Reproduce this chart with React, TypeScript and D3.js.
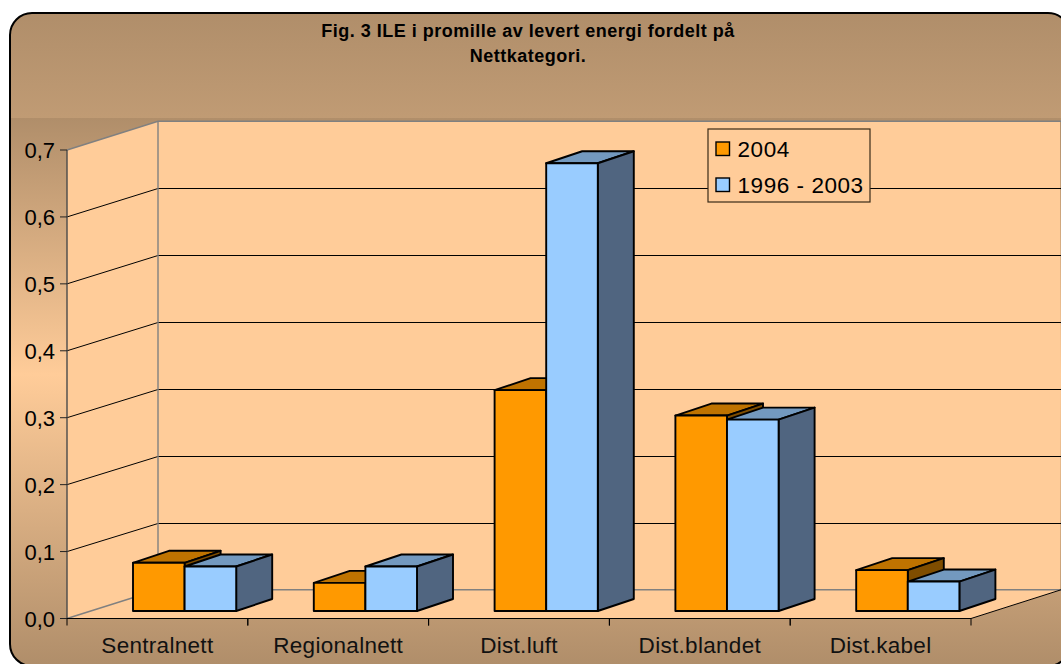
import React from "react";
import * as d3 from "d3";

const categories = ["Sentralnett", "Regionalnett", "Dist.luft", "Dist.blandet", "Dist.kabel"];
const values2004 = [0.072, 0.042, 0.33, 0.292, 0.061];
const values9603 = [0.0665, 0.0665, 0.669, 0.286, 0.044];
const yTicks = [0, 0.1, 0.2, 0.3, 0.4, 0.5, 0.6, 0.7];
const titleLines = ["Fig. 3 ILE i promille av levert energi fordelt på", "Nettkategori."];
const legendLabels = ["2004", "1996 - 2003"];

const W = 1061, H = 664;
const x0 = 67, x1 = 971, yBase = 618.5, yTop = 150;
const wallDx = 91, wallDy = -28.7;
const barBase = 611, barW = 51.6, barDx = 36, barDy = -12, barInset = 66;
const FONT = "'Liberation Sans', Arial, sans-serif";

const palette = [
  { front: "#ff9900", top: "#bf7300", side: "#7f4d00" },
  { front: "#99ccff", top: "#7399bf", side: "#506580" },
];

const band = d3.scaleBand<string>().domain(categories).range([x0, x1]);
const yAxis = d3.scaleLinear().domain([0, 0.7]).range([yBase, yTop]);
const yBar = d3.scaleLinear().domain([0, 0.7]).range([barBase, barBase - (yBase - yTop)]);
const fmt = (v: number) => v.toFixed(1).replace(".", ",");
const poly = (pts: number[][]) => pts.map((p) => p.join(",")).join(" ");

function Bar({ x, value, c }: { x: number; value: number; c: (typeof palette)[number] }) {
  const t = yBar(value);
  const r = x + barW;
  return (
    <g stroke="#000" strokeWidth={1.9} strokeLinejoin="round">
      <polygon points={poly([[x, t], [x + barDx, t + barDy], [r + barDx, t + barDy], [r, t]])} fill={c.top} />
      <polygon points={poly([[r, t], [r + barDx, t + barDy], [r + barDx, barBase + barDy], [r, barBase]])} fill={c.side} />
      <rect x={x} y={t} width={barW} height={barBase - t} fill={c.front} />
    </g>
  );
}

export default function App() {
  const bw = band.bandwidth();
  const backX0 = x0 + wallDx, backX1 = x1 + wallDx;
  const backTop = yTop + wallDy, backBase = yBase + wallDy;
  return (
    <svg width={W} height={H} viewBox={`0 0 ${W} ${H}`} style={{ position: "absolute", left: 0, top: 0, display: "block" }}>
      <defs>
        <linearGradient id="gTop" x1="0" y1="0" x2="0" y2="1">
          <stop offset="0" stopColor="#b08e6a" />
          <stop offset="1" stopColor="#c09b74" />
        </linearGradient>
        <linearGradient id="gLow" x1="0" y1="0" x2="0" y2="1">
          <stop offset="0" stopColor="#b08e6a" />
          <stop offset="0.47" stopColor="#ffcc99" />
          <stop offset="1" stopColor="#b08e6a" />
        </linearGradient>
        <clipPath id="frame"><rect x={10} y={13} width={1060} height={653} rx={22} /></clipPath>
      </defs>
      <g clipPath="url(#frame)">
        <rect x={0} y={13} width={W} height={105} fill="url(#gTop)" />
        <rect x={0} y={118} width={W} height={H - 118} fill="url(#gLow)" />
      </g>
      <rect x={10} y={13} width={1060} height={653} rx={22} fill="none" stroke="#000" strokeWidth={2} />

      <polygon points={poly([[backX0, backTop], [W - 1, backTop], [W - 1, backBase], [backX0, backBase]])} fill="#ffcc99" />
      <polygon points={poly([[x0, yTop], [backX0, backTop], [backX0, backBase], [x0, yBase]])} fill="#ffcc99" />
      <polygon points={poly([[x0, yBase], [backX0, backBase], [backX1, backBase], [x1, yBase]])} fill="#ffcc99" />

      {yTicks.slice(1, -1).map((v) => {
        const y = yAxis(v);
        const by = Math.round(y + wallDy) + 0.5;
        return (
          <g key={v} stroke="#000" strokeWidth={1} fill="none">
            <line x1={x0} y1={y} x2={backX0} y2={by} />
            <line x1={backX0} y1={by} x2={W} y2={by} />
          </g>
        );
      })}
      <polyline points={poly([[x0, yTop], [backX0, backTop], [W, backTop]])} fill="none" stroke="#808080" strokeWidth={1.6} />
      <line x1={backX0} y1={backTop} x2={backX0} y2={backBase} stroke="#808080" strokeWidth={1.4} />
      <polyline points={poly([[x0, yBase], [backX0, backBase], [W, backBase]])} fill="none" stroke="#808080" strokeWidth={1.6} />
      <line x1={x1} y1={yBase} x2={W} y2={backBase} stroke="#000" strokeWidth={1} />

      <line x1={x0} y1={yTop} x2={x0} y2={yBase} stroke="#4a4a4a" strokeWidth={1.4} />
      <line x1={x0 - 7} y1={yBase} x2={x1} y2={yBase} stroke="#000" strokeWidth={1.2} />

      {yTicks.map((v) => (
        <g key={v}>
          <line x1={x0 - 7} x2={x0} y1={yAxis(v)} y2={yAxis(v)} stroke="#222" strokeWidth={1} />
          <text x={55} y={yAxis(v) + 8} textAnchor="end" fontFamily={FONT} fontSize={22} fill="#000">{fmt(v)}</text>
        </g>
      ))}

      {categories.map((c, i) => {
        const b = band(c)!;
        return (
          <g key={c}>
            <line x1={b + bw} x2={b + bw} y1={yBase} y2={yBase + 7} stroke="#000" strokeWidth={1} />
            <line x1={b} x2={b} y1={yBase} y2={yBase + 7} stroke="#000" strokeWidth={1} />
            <text x={b + bw / 2} y={653} textAnchor="middle" fontFamily={FONT} fontSize={22.5} letterSpacing={0.3} fill="#111">{c}</text>
            <Bar x={b + barInset} value={values2004[i]} c={palette[0]} />
            <Bar x={b + barInset + barW} value={values9603[i]} c={palette[1]} />
          </g>
        );
      })}

      {titleLines.map((t, i) => (
        <text key={t} x={528} y={37 + i * 25} textAnchor="middle" fontFamily={FONT} fontWeight={700} fontSize={18} letterSpacing={0.5} fill="#000">{t}</text>
      ))}

      <rect x={708} y={129} width={162} height={73} fill="#ffcc99" stroke="#3a2a18" strokeWidth={1.2} />
      {legendLabels.map((t, i) => (
        <g key={t}>
          <rect x={716} y={142 + i * 36} width={13.5} height={13.5} fill={palette[i].front} stroke="#000" strokeWidth={1.4} />
          <text x={737.5} y={157 + i * 35.6} fontFamily={FONT} fontSize={22.5} letterSpacing={0.55} fill="#000">{t}</text>
        </g>
      ))}
    </svg>
  );
}
